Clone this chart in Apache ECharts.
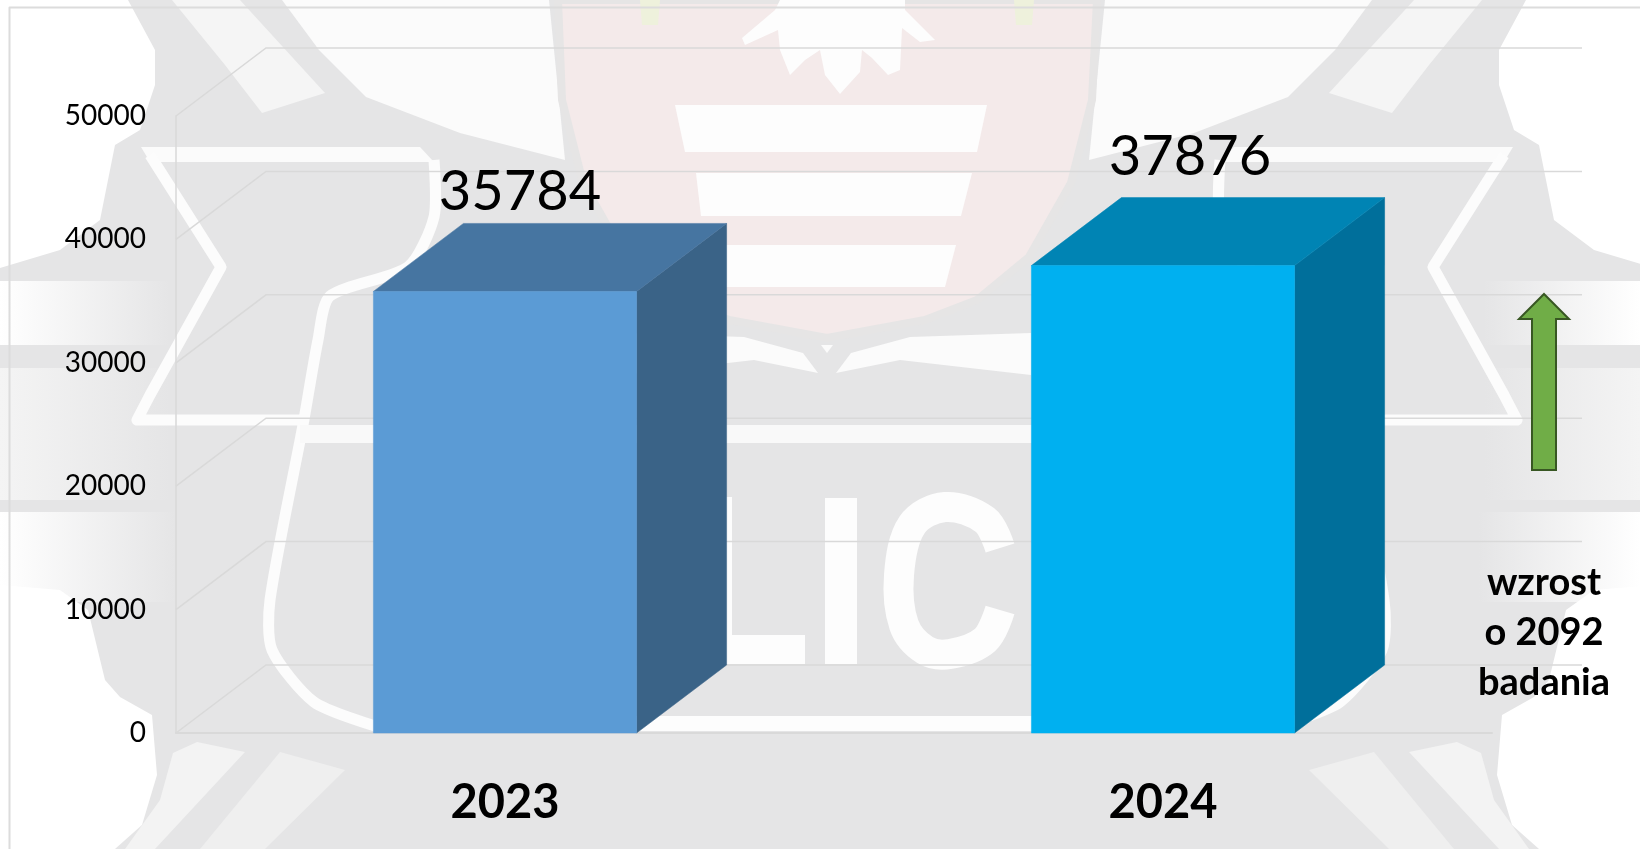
<!DOCTYPE html>
<html><head><meta charset="utf-8">
<style>html,body{margin:0;padding:0;background:#fff}#c{width:1640px;height:849px}</style>
<script src="https://cdn.jsdelivr.net/npm/echarts@6/dist/echarts.min.js"></script>
</head><body><div id="c"></div>
<script>
const categories = ['2023', '2024'];
const values = [35784, 37876];
const yTicks = [0, 10000, 20000, 30000, 40000, 50000];
const noteLines = ['wzrost', 'o 2092', 'badania'];

const frontColors = ['#5B9BD5', '#00B0F0'];
const topColors = ['#4675A1', '#0084B4'];
const sideColors = ['#3A6387', '#006F9B'];
const labelOffsets = [[15, -31], [27, -41]];
const DX = 90, DY = 68, FONT = 'Lato, "Open Sans", sans-serif', GRIDC = '#D9D9D9';

const chart = echarts.init(document.getElementById('c'), null, {renderer: 'canvas'});
const MIRROR = 1654;
const mir = p => p.map(([x, y]) => [MIRROR - x, y]);
const poly = (points, fill, extra) => ({type: 'polygon', silent: true, z: -10, shape: {points}, style: Object.assign({fill}, extra || {})});
const line = (points, stroke, lineWidth, smooth) => ({type: 'polyline', silent: true, z: -10, shape: {points, smooth: smooth || 0}, style: {stroke, lineWidth, fill: null, lineJoin: 'round'}});
const both = (points, fill) => [poly(points, fill), poly(mir(points), fill)];
const bothL = (points, w, c, s) => [line(points, c || '#FCFCFC', w, s), line(mir(points), c || '#FCFCFC', w, s)];
const grad = (x, y, w, h, c0, c1) => ({type: 'rect', silent: true, z: -10, shape: {x, y, width: w, height: h},
  style: {fill: new echarts.graphic.LinearGradient(0, 0, 1, 0, [{offset: 0, color: c0}, {offset: 1, color: c1}])}});
const gradR = (x, y, w, h, c0, c1) => grad(x, y, w, h, c1, c0);

const G = '#E5E5E6', W = '#FFFFFF';
const watermark = [
  {type: 'rect', silent: true, z: -10, shape: {x: 0, y: 0, width: 1640, height: 849}, style: {fill: G}},
  // side bands
  grad(0, 281, 170, 64, W, G), gradR(1484, 281, 156, 64, W, G),
  grad(0, 368, 170, 132, '#F4F4F4', G), gradR(1484, 368, 156, 132, '#F4F4F4', G),
  grad(0, 512, 175, 90, W, G), gradR(1479, 512, 161, 90, W, G),
  // white corners
  ...both([[0, 0], [128, 0], [155, 50], [155, 85], [140, 130], [115, 145], [100, 220], [60, 250], [0, 268]], W),
  ...both([[0, 585], [60, 590], [88, 610], [105, 680], [120, 697], [152, 715], [157, 775], [142, 825], [115, 849], [0, 849]], W),
  // upper light wedges
  ...both([[172, 0], [240, 0], [325, 93], [262, 113], [225, 65]], '#F5F5F5'),
  ...both([[282, 0], [549, 0], [565, 160], [460, 133], [366, 97], [319, 50]], '#FBFBFB'),
  // lower light rays
  ...both([[173, 753], [197, 742], [245, 752], [155, 849], [125, 849], [160, 800]], '#F3F3F3'),
  ...both([[280, 752], [345, 770], [265, 849], [200, 849]], '#EFEFEF'),
  // star outline
  poly([[141, 147], [420, 147], [434, 162], [150, 162]], '#FBFBFB'),
  poly(mir([[141, 147], [420, 147], [434, 162], [150, 162]]), '#FBFBFB'),
  ...bothL([[150, 155], [221, 267], [150, 395], [137, 420], [300, 420]], 11),
  ...bothL([[434, 160], [434, 217], [408, 267], [330, 296], [318, 340], [303, 425], [270, 600], [272, 650], [314, 702], [375, 726]], 11, '#FCFCFC', 0.25),
  poly([[300, 425], [1360, 425], [1360, 443], [300, 443]], '#F9F9F9'),
  poly([[620, 716], [1040, 716], [1040, 731], [620, 731]], '#FDFDFD'),
  // shield
  poly([[558, 0], [1097, 0], [1092, 100], [1071, 183], [1029, 257], [977, 300], [925, 320], [827, 338], [729, 320], [677, 300], [625, 257], [583, 183], [562, 100]], '#F4EAEA', {stroke: '#E6E5E5', lineWidth: 8}),
  poly([[675, 105], [987, 105], [977, 152], [685, 152]], '#FDFDFD'),
  poly([[696, 173], [972, 173], [961, 216], [701, 216]], '#FDFDFD'),
  poly([[706, 245], [956, 245], [945, 287], [717, 287]], '#FDFDFD'),
  // eagle claws
  poly([[780, 0], [905, 0], [905, 10], [935, 40], [920, 42], [902, 28], [900, 70], [888, 75], [872, 58], [862, 50], [860, 72], [840, 94], [825, 75], [820, 50], [805, 60], [790, 75], [780, 50], [778, 30], [745, 45], [742, 38], [775, 10]], '#FDFDFD'),
  poly([[640, 0], [660, 0], [658, 25], [642, 25]], '#EEF1DC'),
  poly([[1014, 0], [1034, 0], [1032, 25], [1016, 25]], '#EEF1DC'),
  // lower white wedges
  ...both([[836, 373], [851, 353], [910, 337], [1031, 333], [1031, 375], [900, 360]], '#FBFBFB'),
  poly([[821, 345], [833, 345], [827, 353]], '#FBFBFB'),
  // plate letters
  poly([[690, 497], [732, 497], [732, 635], [805, 635], [805, 664], [690, 664]], '#FDFDFD'),
  poly([[825, 498], [857, 498], [857, 664], [825, 664]], '#FDFDFD'),
  line([[1000, 548], [985, 520], [945, 507], [912, 525], [899, 575], [904, 625], [925, 650], [950, 654], [985, 640], [1000, 610]], '#FDFDFD', 30, 0.35),
  // outer frame
  line([[9.5, 849], [9.5, 7.5], [1640, 7.5]], '#DCDCDC', 2)
];

const arrow = {type: 'polygon', z: 20, silent: true, shape: {points: [[1544, 294], [1569, 319], [1556, 319], [1556, 470], [1532, 470], [1532, 319], [1519, 319]]},
  style: {fill: '#70AD47', stroke: '#385723', lineWidth: 2}};
const note = {type: 'text', z: 20, silent: true, style: {x: 1544, y: 633, text: noteLines.join('\n'), align: 'center', verticalAlign: 'middle',
  font: 'bold 38px ' + FONT, lineHeight: 50, fill: '#000'}};

function gridItem(params, api) {
  const c = params.coordSys, y = api.coord([0, api.value(0)])[1];
  const style = {stroke: GRIDC, lineWidth: 1.5, fill: null};
  return {type: 'group', children: [
    {type: 'polyline', shape: {points: [[c.x, y], [c.x + DX, y - DY], [c.x + c.width + DX, y - DY]]}, style}
  ]};
}
function barItem(params, api) {
  const i = api.value(0), v = api.value(1);
  const [cx, yt] = api.coord([i, v]);
  const y0 = api.coord([i, 0])[1];
  const w = api.size([1, 0])[0] * 0.4;
  const l = cx - w / 2, r = cx + w / 2;
  const off = labelOffsets[i];
  const p = (points, c) => ({type: 'polygon', shape: {points}, style: {fill: c, stroke: c, lineWidth: 0.5}});
  return {type: 'group', children: [
    p([[r, yt], [r + DX, yt - DY], [r + DX, y0 - DY], [r, y0]], sideColors[i]),
    p([[l, yt], [l + DX, yt - DY], [r + DX, yt - DY], [r, yt]], topColors[i]),
    p([[l, yt], [r, yt], [r, y0], [l, y0]], frontColors[i]),
    {type: 'text', style: {text: String(v), x: cx + off[0], y: yt - DY + off[1], align: 'center', verticalAlign: 'middle', font: '56px ' + FONT, fill: '#000'}}
  ]};
}

chart.setOption({
  animation: false,
  backgroundColor: '#fff',
  graphic: {elements: [...watermark, arrow, note]},
  grid: {left: 176, top: 116, width: 1316, height: 617},
  xAxis: {type: 'category', data: categories, axisTick: {show: false},
    axisLine: {show: true, onZero: true, lineStyle: {color: GRIDC, width: 2}},
    axisLabel: {margin: 47, fontFamily: FONT, fontWeight: 'bold', fontSize: 47, color: '#000', lineHeight: 46}},
  yAxis: {type: 'value', min: 0, max: 50000, interval: 10000, splitLine: {show: false}, axisTick: {show: false},
    axisLine: {show: true, lineStyle: {color: GRIDC, width: 1.5}},
    axisLabel: {margin: 30, fontFamily: FONT, fontSize: 28, color: '#000', padding: [10, 0, 0, 0], formatter: v => String(v)}},
  series: [
    {type: 'custom', name: 'siatka', coordinateSystem: 'cartesian2d', encode: {y: 0}, data: yTicks.map(t => [t]),
      renderItem: gridItem, silent: true, z: 1, clip: false},
    {type: 'custom', name: 'badania', coordinateSystem: 'cartesian2d', encode: {x: 0, y: 1}, data: values.map((v, i) => [i, v]),
      renderItem: barItem, silent: true, z: 3, clip: false}
  ]
});
</script></body></html>
